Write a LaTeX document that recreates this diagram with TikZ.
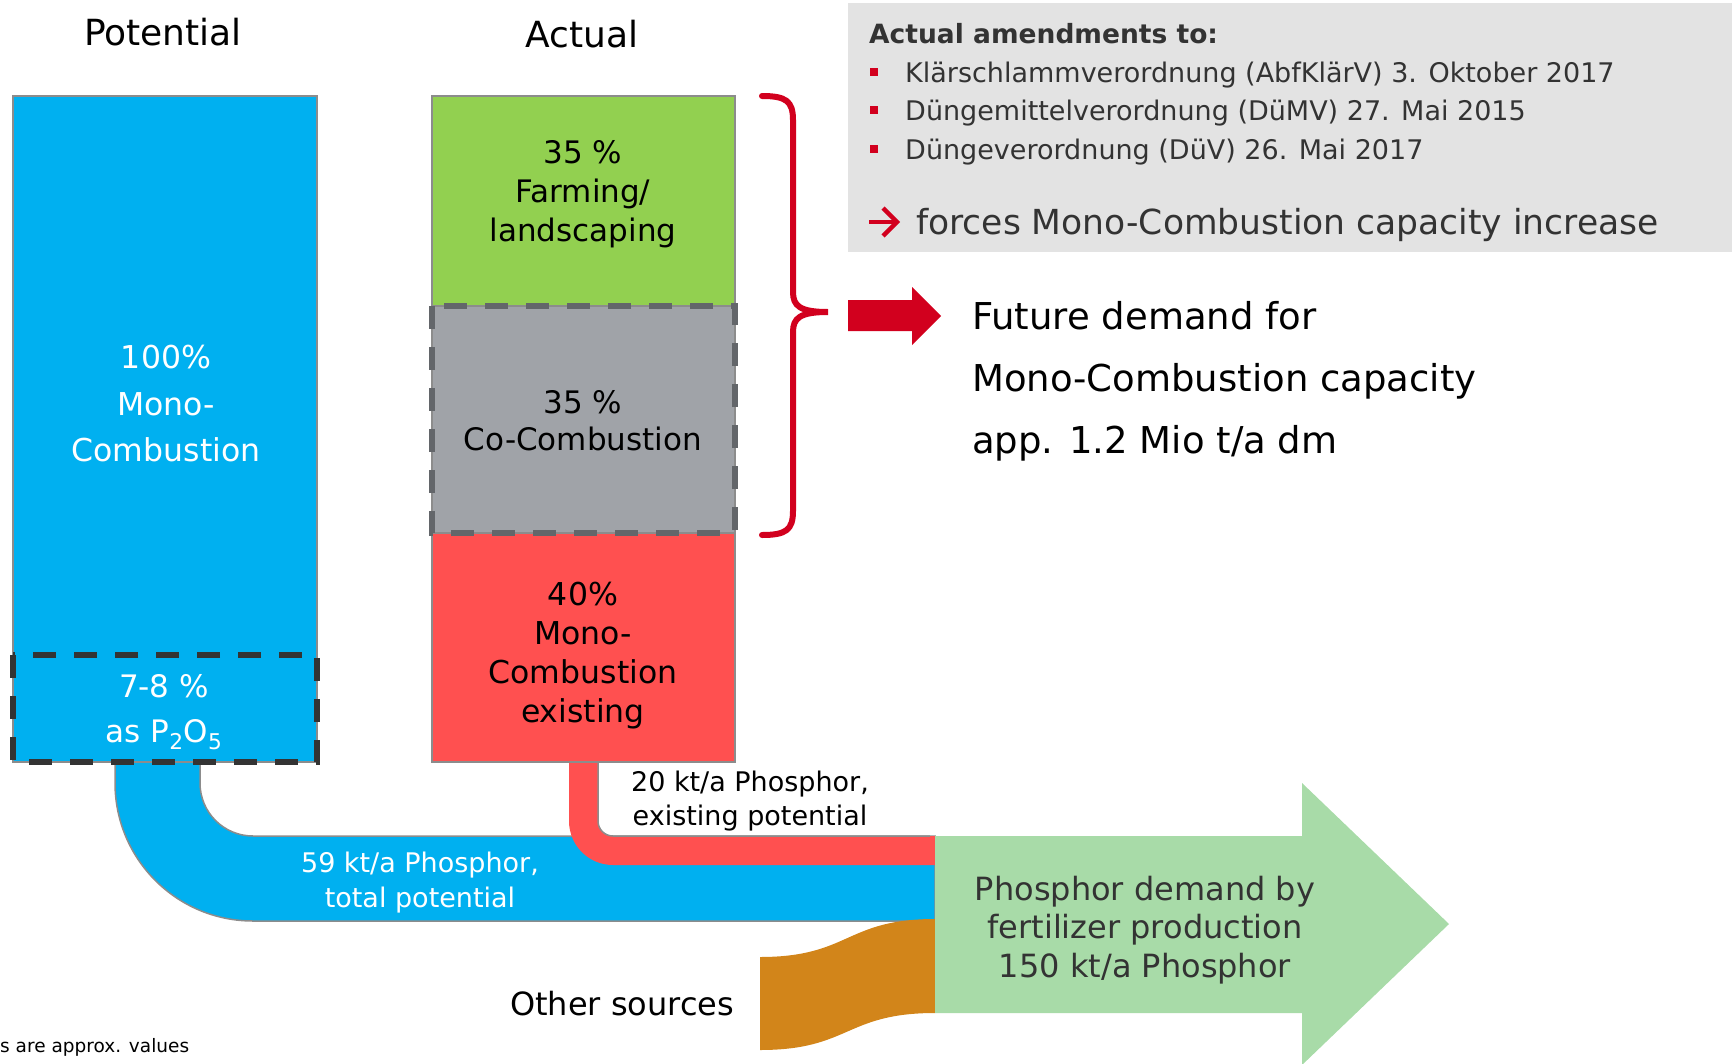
\documentclass[tikz,border=0pt]{standalone}
\usepackage{fontspec}
\setmainfont{DejaVu Sans}
\definecolor{cblue}{HTML}{00B0F0}
\definecolor{cgreen}{HTML}{92D050}
\definecolor{cgray}{HTML}{A0A3A8}
\definecolor{cred}{HTML}{FF5050}
\definecolor{corange}{HTML}{D2851A}
\definecolor{carrow}{HTML}{A8DBA8}
\definecolor{cdeep}{HTML}{D2001E}
\definecolor{cpanel}{HTML}{E3E3E3}
\definecolor{cedge}{HTML}{8C8C8C}
\definecolor{cdash}{HTML}{333333}
\definecolor{cdashb}{HTML}{63666A}
\definecolor{ctext}{HTML}{333333}
\newcommand{\fsz}[2]{\fontsize{#1pt}{#2pt}\selectfont}
\begin{document}
\begin{tikzpicture}[x=1pt,y=-1pt,
  bar/.style={draw=cedge,line width=1.5pt,inner sep=0pt,outer sep=0pt,anchor=north west},
  lbl/.style={inner sep=0pt,align=center},
  dashbox/.style={line width=6pt,dash pattern=on 23pt off 18pt},
  bul/.style={fill=cdeep,inner sep=0pt,minimum size=7.5pt},
]
\useasboundingbox (0,0) rectangle (1732,1063);

% flows
\filldraw[fill=cblue,draw=cedge,line width=1.5pt] (115,762) -- (115,783) .. controls (115,859.2) and (176.8,921) .. (253,921) -- (935,921) -- (935,836) -- (253,836) .. controls (223.7,836) and (200,812.3) .. (200,783) -- (200,762) -- cycle;
\fill[cred] (569,762) -- (569,821) .. controls (569,845.3) and (588.7,865) .. (613,865) -- (935,865) -- (935,836) -- (613,836) .. controls (604.7,836) and (598,829.3) .. (598,821) -- (598,762) -- cycle;
\draw[cedge,line width=1.5pt] (598,762) -- (598,821) .. controls (598,829.3) and (604.7,836) .. (613,836) -- (930,836);
\fill[corange] (760,957) .. controls (850,957) and (845,919) .. (935,919) -- (935,1013) .. controls (845,1013) and (850,1050) .. (760,1050) -- cycle;
\fill[carrow] (935,836) -- (1302,836) -- (1302,783) -- (1449,924) -- (1302,1065) -- (1302,1013) -- (935,1013) -- cycle;

% boxes
\node[bar,fill=cblue,minimum width=304pt,minimum height=666pt] (pot) at (13,96) {};
\node[bar,fill=cgreen,minimum width=303pt,minimum height=210pt] (farm) at (432,96) {};
\node[bar,fill=cgray,minimum width=303pt,minimum height=227pt] (cocomb) at (432,306) {};
\node[bar,fill=cred,minimum width=303pt,minimum height=229pt] (mono) at (432,533) {};
\draw[dashbox,cdash] (13,655) rectangle (317,762);
\draw[dashbox,cdashb] (432,306) rectangle (735,533);

% panel
\fill[cpanel] (848,3) rectangle (1732,252);
\node[anchor=base west,inner sep=0pt,text=ctext,font=\fsz{26.5}{30}\bfseries] (ptitle) at (869,43) {Actual amendments to:};
\node[bul] (b1) at (874,72) {};
\node[bul] (b2) at (874,110) {};
\node[bul] (b3) at (874,149) {};
\node[anchor=base west,inner sep=0pt,text=ctext,font=\fsz{27}{30}] (i1) at (905,82) {Klärschlammverordnung (AbfKlärV) 3. Oktober 2017};
\node[anchor=base west,inner sep=0pt,text=ctext,font=\fsz{27}{30}] (i2) at (905,120) {Düngemittelverordnung (DüMV) 27. Mai 2015};
\node[anchor=base west,inner sep=0pt,text=ctext,font=\fsz{27}{30}] (i3) at (905,159) {Düngeverordnung (DüV) 26. Mai 2017};
\draw[cdeep,line width=4.5pt] (869,222) -- (896,222);
\draw[cdeep,line width=4.5pt,line join=miter] (883,208) -- (897,222) -- (883,236);
\node[anchor=base west,inner sep=0pt,text=ctext,font=\fsz{34.5}{38}] (forces) at (916,234) {forces Mono-Combustion capacity increase};

% brace and red arrow
\draw[cdeep,line width=6pt,line cap=round] (762,96) .. controls (786,96) and (793,101) .. (793,120) -- (793,292) .. controls (793,306) and (800,312) .. (828,312) .. controls (800,312) and (793,318) .. (793,332) -- (793,511) .. controls (793,530) and (786,535) .. (762,535);
\fill[cdeep] (848,300) -- (912,300) -- (912,287) -- (941,316) -- (912,345) -- (912,331) -- (848,331) -- cycle;
\node[anchor=west,inner sep=0pt,align=left,font=\fsz{37}{62}] (future) at (972,381) {Future demand for\\Mono-Combustion capacity\\app. 1.2 Mio t/a dm};

% titles
\node[lbl,font=\fsz{36}{40}] (tpot) at (163,32) {Potential};
\node[lbl,font=\fsz{36}{40}] (tact) at (582,34) {Actual};

% box labels
\node[lbl,text=white,font=\fsz{31.5}{46.5}] (lpot) at (166,404) {100\%\\Mono-\\Combustion};
\node[lbl,font=\fsz{31}{39}] (lfarm) at (583,194.5) {35 \%\\Farming/\\landscaping};
\node[lbl,font=\fsz{31}{37}] (lco) at (583,421) {35 \%\\Co-Combustion};
\node[lbl,font=\fsz{31.5}{39}] (lmono) at (583,656) {40\%\\Mono-\\Combustion\\existing};
\node[lbl,text=white,font=\fsz{31}{45}] (lp2o5) at (164,712) {7-8 \%\\as P\textsubscript{2}O\textsubscript{5}};

% flow labels
\node[lbl,text=white,font=\fsz{27}{35}] (l59) at (420,883) {59 kt/a Phosphor,\\total potential};
\node[lbl,font=\fsz{27}{34}] (l20) at (750,801) {20 kt/a Phosphor,\\existing potential};
\node[lbl,text=ctext,font=\fsz{32}{38.5}] (ldemand) at (1145,930) {Phosphor demand by\\fertilizer production\\150 kt/a Phosphor};
\node[lbl,font=\fsz{32}{36}] (lother) at (622,1004) {Other sources};
\node[anchor=west,inner sep=0pt,font=\fsz{18.5}{22}] (foot) at (0,1047) {s are approx. values};
\end{tikzpicture}
\end{document}
